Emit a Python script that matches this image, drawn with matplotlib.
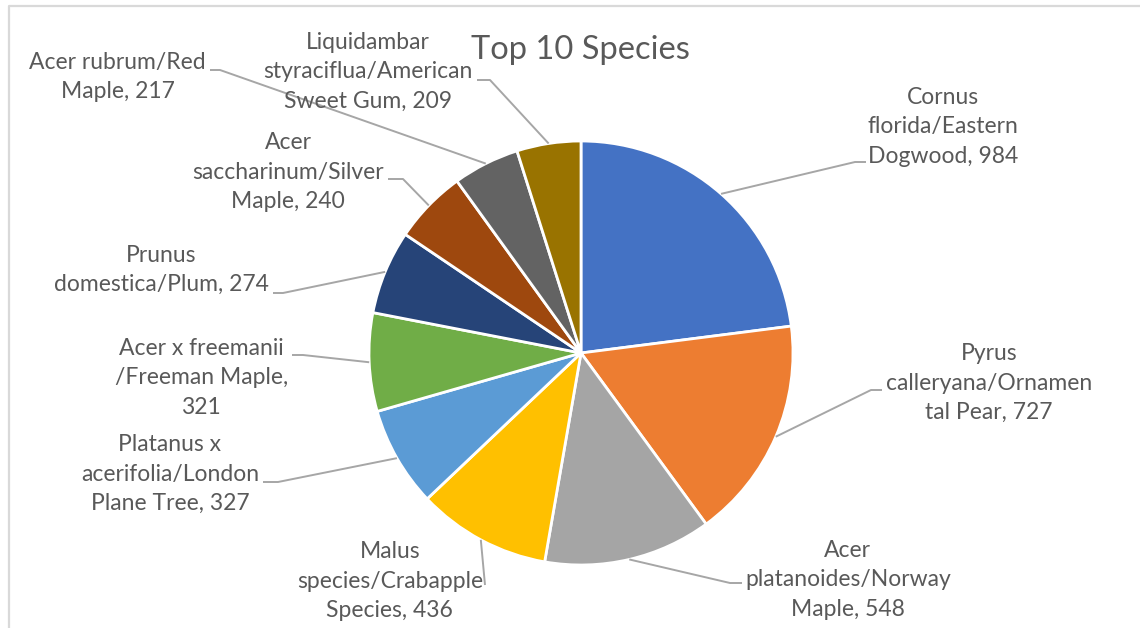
import matplotlib
matplotlib.use("Agg")
import numpy as np
import matplotlib.pyplot as plt

# -------------------------------
# Data
# -------------------------------
species = [
    "Cornus\nflorida/Eastern\nDogwood, {}",
    "Pyrus\ncalleryana/Ornamen\ntal Pear, {}",
    "Acer\nplatanoides/Norway\nMaple, {}",
    "Malus\nspecies/Crabapple\nSpecies, {}",
    "Platanus x\nacerifolia/London\nPlane Tree, {}",
    "Acer x freemanii\n/Freeman Maple,\n{}",
    "Prunus\ndomestica/Plum, {}",
    "Acer\nsaccharinum/Silver\nMaple, {}",
    "Acer rubrum/Red\nMaple, {}",
    "Liquidambar\nstyraciflua/American\nSweet Gum, {}",
]
counts = [984, 727, 548, 436, 327, 321, 274, 240, 217, 209]
colors = ["#4472C4", "#ED7D31", "#A5A5A5", "#FFC000", "#5B9BD5",
          "#70AD47", "#264478", "#9E480E", "#636363", "#997300"]

# -------------------------------
# Layout (pixel coords, y down)
# -------------------------------
W, H = 1140, 628
center = (581, 353)
radius = 212
# label anchor: x is the block edge next to the leader, y is block centre
label_xy = [(868, 127), (886, 383), (745, 580), (483, 581), (259, 474),
            (288, 378), (269, 270), (384, 172), (206, 77), (473, 72)]
label_ha = ["left", "left", "left", "right", "right",
            "right", "right", "right", "right", "right"]
# elbow point and end point of each leader line
elbow = [(855, 162), (871, 390), (730, 583), (485, 585), (278, 482),
         (303, 355), (283, 293), (403, 179), (220, 70), (490, 80)]
tail = [(866, 162), (882, 390), (742, 583), (485, 585), (263, 482),
        (292, 355), (273, 293), (388, 179), (210, 70), (477, 80)]

text_color = "#595959"
line_color = "#A6A6A6"

plt.rcParams["font.family"] = ["Lato", "DejaVu Sans"]

fig = plt.figure(figsize=(W / 100, H / 100), dpi=100)
ax = fig.add_axes([0, 0, 1, 1])

wedges, _ = ax.pie(counts, colors=colors, startangle=270, counterclock=True,
                   center=center, radius=radius,
                   wedgeprops=dict(edgecolor="white", linewidth=2))

ax.set_xlim(0, W)
ax.set_ylim(H, 0)
ax.set_aspect("equal")
ax.axis("off")

# leader lines + labels
for i, w in enumerate(wedges):
    mid = np.deg2rad((w.theta1 + w.theta2) / 2)
    sx = center[0] + radius * np.cos(mid)
    sy = center[1] + radius * np.sin(mid)
    ax.plot([sx, elbow[i][0], tail[i][0]], [sy, elbow[i][1], tail[i][1]],
            color=line_color, lw=1.4, solid_capstyle="butt")
    ax.text(label_xy[i][0], label_xy[i][1], species[i].format(counts[i]),
            ha=label_ha[i], va="center", multialignment="center",
            fontsize=16.5, color=text_color, linespacing=1.5)

ax.text(580, 50, "Top 10 Species", ha="center", va="center",
        fontsize=23.5, color=text_color)

# chart frame (cropped at right and bottom)
ax.plot([9, 9, W + 5], [H + 5, 6, 6], color="#D9D9D9", lw=1.6, clip_on=False)

plt.savefig("out.png", dpi=100)
